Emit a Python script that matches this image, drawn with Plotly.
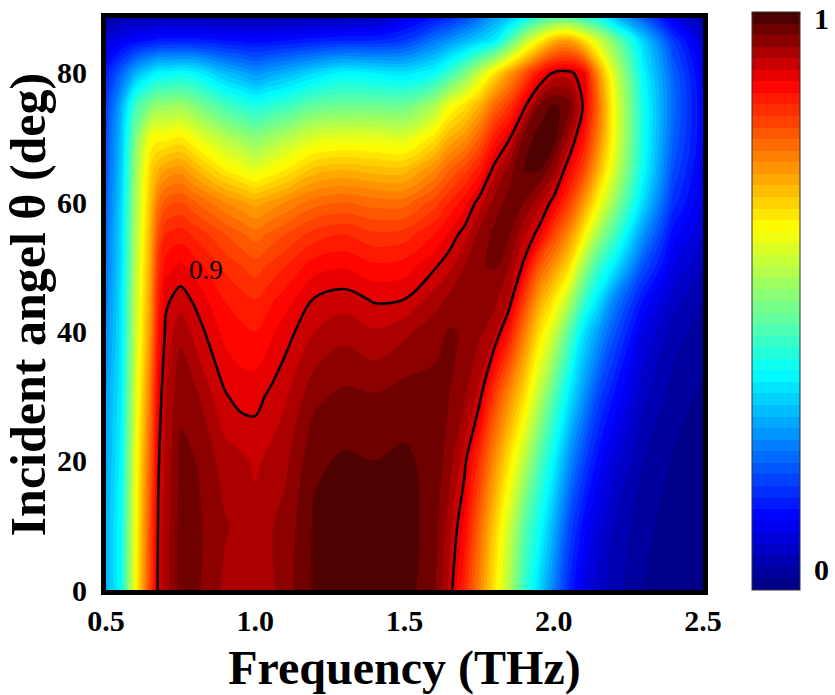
import plotly.graph_objects as go

# frequency grid (THz) and incident angle grid (deg)
freq = [0.5, 0.55, 0.6, 0.65, 0.675, 0.7, 0.75, 0.8, 0.9, 0.95, 1.0, 1.05, 1.1, 1.2, 1.3, 1.4, 1.5,
        1.6, 1.65, 1.7, 1.75, 1.8, 1.85, 1.9, 1.95, 2.0, 2.05, 2.1, 2.15, 2.2, 2.3, 2.4, 2.5]
angle = [0, 10, 20, 30, 40, 45, 50, 55, 60, 65, 70, 75, 80, 85, 89]

# absorption, one row per angle
a00 = [0.30, 0.38, 0.63, 0.82, 0.908, 0.93, 0.968, 0.965, 0.935, 0.928, 0.925, 0.935, 0.95, 0.984, 0.99, 0.99, 0.99,
       0.965, 0.915, 0.84, 0.75, 0.65, 0.55, 0.43, 0.34, 0.25, 0.16, 0.10, 0.07, 0.05, 0.02, 0.01, 0.005]
a10 = [0.30, 0.38, 0.62, 0.81, 0.903, 0.93, 0.968, 0.965, 0.942, 0.935, 0.928, 0.938, 0.947, 0.984, 0.99, 0.99, 0.99,
       0.97, 0.93, 0.875, 0.78, 0.68, 0.58, 0.47, 0.39, 0.30, 0.20, 0.13, 0.09, 0.06, 0.025, 0.012, 0.006]
a20 = [0.29, 0.37, 0.61, 0.79, 0.897, 0.925, 0.965, 0.96, 0.93, 0.925, 0.916, 0.926, 0.935, 0.976, 0.983, 0.98, 0.984,
       0.973, 0.95, 0.91, 0.83, 0.74, 0.65, 0.56, 0.46, 0.37, 0.27, 0.19, 0.13, 0.09, 0.04, 0.018, 0.01]
a30 = [0.28, 0.36, 0.59, 0.77, 0.885, 0.92, 0.955, 0.945, 0.902, 0.892, 0.893, 0.904, 0.917, 0.955, 0.965, 0.962, 0.97,
       0.968, 0.96, 0.945, 0.913, 0.82, 0.74, 0.66, 0.56, 0.46, 0.36, 0.27, 0.19, 0.14, 0.065, 0.03, 0.015]
a40 = [0.26, 0.35, 0.575, 0.74, 0.86, 0.905, 0.935, 0.912, 0.873, 0.866, 0.86, 0.875, 0.89, 0.92, 0.933, 0.922, 0.935,
       0.952, 0.962, 0.958, 0.945, 0.93, 0.86, 0.76, 0.66, 0.58, 0.47, 0.35, 0.28, 0.21, 0.10, 0.05, 0.03]
a45 = [0.25, 0.35, 0.57, 0.73, 0.85, 0.895, 0.91, 0.895, 0.858, 0.848, 0.84, 0.855, 0.87, 0.902, 0.91, 0.897, 0.90,
       0.93, 0.945, 0.955, 0.955, 0.945, 0.92, 0.82, 0.72, 0.65, 0.56, 0.44, 0.35, 0.26, 0.14, 0.07, 0.04]
a50 = [0.24, 0.34, 0.56, 0.72, 0.83, 0.87, 0.885, 0.87, 0.835, 0.822, 0.81, 0.825, 0.84, 0.872, 0.878, 0.865, 0.87,
       0.897, 0.915, 0.94, 0.958, 0.962, 0.94, 0.893, 0.79, 0.73, 0.66, 0.53, 0.43, 0.36, 0.20, 0.10, 0.06]
a55 = [0.23, 0.34, 0.55, 0.71, 0.80, 0.84, 0.85, 0.835, 0.80, 0.785, 0.77, 0.785, 0.80, 0.83, 0.84, 0.825, 0.83,
       0.86, 0.885, 0.91, 0.945, 0.965, 0.963, 0.925, 0.89, 0.81, 0.74, 0.64, 0.53, 0.45, 0.27, 0.13, 0.08]
a60 = [0.22, 0.33, 0.54, 0.69, 0.76, 0.79, 0.80, 0.78, 0.74, 0.725, 0.71, 0.725, 0.74, 0.77, 0.78, 0.77, 0.77,
       0.81, 0.84, 0.87, 0.91, 0.948, 0.968, 0.96, 0.93, 0.89, 0.82, 0.73, 0.625, 0.53, 0.34, 0.17, 0.10]
a65 = [0.21, 0.32, 0.53, 0.67, 0.70, 0.72, 0.73, 0.70, 0.64, 0.62, 0.60, 0.62, 0.64, 0.69, 0.70, 0.69, 0.69,
       0.74, 0.78, 0.81, 0.85, 0.91, 0.95, 0.982, 0.983, 0.945, 0.88, 0.81, 0.70, 0.59, 0.38, 0.20, 0.11]
a70 = [0.20, 0.31, 0.50, 0.62, 0.63, 0.63, 0.64, 0.61, 0.55, 0.53, 0.51, 0.53, 0.55, 0.59, 0.60, 0.60, 0.59,
       0.65, 0.70, 0.73, 0.78, 0.85, 0.895, 0.965, 0.99, 0.99, 0.935, 0.86, 0.75, 0.62, 0.39, 0.22, 0.12]
a75 = [0.18, 0.29, 0.44, 0.50, 0.52, 0.52, 0.53, 0.50, 0.44, 0.42, 0.40, 0.415, 0.43, 0.47, 0.48, 0.48, 0.48,
       0.54, 0.61, 0.65, 0.70, 0.77, 0.82, 0.89, 0.96, 0.985, 0.97, 0.895, 0.77, 0.62, 0.39, 0.23, 0.12]
a80 = [0.15, 0.22, 0.30, 0.35, 0.37, 0.37, 0.38, 0.37, 0.31, 0.29, 0.27, 0.285, 0.30, 0.34, 0.37, 0.36, 0.35,
       0.38, 0.43, 0.49, 0.57, 0.65, 0.72, 0.79, 0.86, 0.905, 0.91, 0.88, 0.73, 0.59, 0.37, 0.22, 0.11]
a85 = [0.09, 0.11, 0.13, 0.14, 0.15, 0.15, 0.15, 0.15, 0.14, 0.135, 0.13, 0.135, 0.14, 0.15, 0.16, 0.16, 0.18,
       0.24, 0.27, 0.30, 0.33, 0.36, 0.45, 0.55, 0.63, 0.70, 0.72, 0.66, 0.58, 0.50, 0.33, 0.18, 0.08]
a89 = [0.03, 0.04, 0.04, 0.04, 0.04, 0.04, 0.04, 0.04, 0.04, 0.04, 0.04, 0.04, 0.04, 0.04, 0.04, 0.05, 0.09,
       0.13, 0.15, 0.18, 0.22, 0.27, 0.30, 0.35, 0.40, 0.43, 0.43, 0.40, 0.37, 0.30, 0.20, 0.10, 0.04]

absorb = [a00, a10, a20, a30, a40, a45, a50, a55, a60, a65, a70, a75, a80, a85, a89]

jet_dark = [[0, '#000080'], [0.125, '#0000ff'], [0.375, '#00ffff'],
            [0.625, '#ffff00'], [0.875, '#ff0000'], [1, '#400000']]

serif = 'Liberation Serif'

fig = go.Figure()

fig.add_trace(go.Contour(
    x=freq, y=angle, z=absorb,
    zmin=0, zmax=1,
    colorscale=jet_dark,
    contours=dict(start=0, end=1, size=0.02, coloring='fill'),
    line=dict(width=0, smoothing=1.0),
    colorbar=dict(
        x=1.082, xanchor='left', xpad=0,
        y=0.5052, yanchor='middle', ypad=0,
        len=1.0104, lenmode='fraction',
        thickness=48,
        outlinewidth=1, outlinecolor='#333333',
        showticklabels=False, ticks='',
    ),
    hoverinfo='skip',
))

# 0.9 iso-line
fig.add_trace(go.Contour(
    x=freq, y=angle, z=absorb,
    contours=dict(start=0.9, end=0.9, size=0.05, coloring='none'),
    line=dict(color='black', width=2.5, smoothing=1.0),
    showscale=False,
    hoverinfo='skip',
))

fig.add_annotation(x=0.835, y=49.5, text='0.9', showarrow=False,
                   xanchor='center', yanchor='middle',
                   font=dict(family=serif, size=27, color='black'))

# colour bar end labels
bar_font = dict(family=serif, size=30, color='black', weight='bold')
fig.add_annotation(xref='paper', yref='paper', x=1.199, y=1.0, text='1',
                   xanchor='center', yanchor='middle', showarrow=False, font=bar_font)
fig.add_annotation(xref='paper', yref='paper', x=1.199, y=0.035, text='0',
                   xanchor='center', yanchor='middle', showarrow=False, font=bar_font)

# y axis title
fig.add_annotation(xref='paper', yref='paper', x=-0.13, y=0.5, text='Incident angel θ (deg)',
                   textangle=-90, xanchor='center', yanchor='middle', showarrow=False,
                   font=dict(family=serif, size=50, color='black', weight='bold'))

fig.update_xaxes(
    range=[0.5, 2.5], tickvals=[0.5, 1.0, 1.5, 2.0, 2.5],
    ticktext=['0.5', '1.0', '1.5', '2.0', '2.5'],
    showline=True, linewidth=5, linecolor='black', mirror=True,
    ticks='', showgrid=False, zeroline=False, automargin=False,
    tickfont=dict(family=serif, size=30, color='black', weight='bold'),
    title=dict(text='Frequency (THz)', standoff=23,
               font=dict(family=serif, size=48, color='black', weight='bold')),
)
fig.update_yaxes(
    range=[0, 88.5], tickvals=[0, 20, 40, 60, 80],
    showline=True, linewidth=5, linecolor='black', mirror=True,
    ticks='', showgrid=False, zeroline=False, ticklabelstandoff=8, automargin=False,
    tickfont=dict(family=serif, size=30, color='black', weight='bold'),
)

fig.update_layout(
    width=835, height=695,
    margin=dict(l=106, r=132, t=15, b=105),
    paper_bgcolor='white', plot_bgcolor='white',
    showlegend=False,
)

# drop the page's default body margin so the figure sits at the top-left corner
fig.write_html("out.html", config={'displayModeBar': False},
               post_script="document.body.style.margin='0';")
